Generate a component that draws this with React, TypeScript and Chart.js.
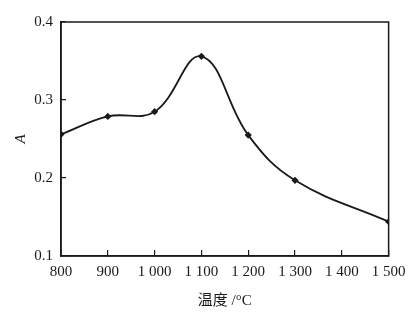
import React, { useEffect, useRef } from "react";
import { Chart, registerables } from "chart.js";

Chart.register(...registerables);

const temperatures = [800, 900, 1000, 1100, 1200, 1300, 1500];
const absorbance = [0.256, 0.279, 0.285, 0.356, 0.255, 0.197, 0.144];
const xTickValues = [800, 900, 1000, 1100, 1200, 1300, 1400, 1500];
const xTickLabels = ["800", "900", "1 000", "1 100", "1 200", "1 300", "1 400", "1 500"];
const yTickLabels = ["0.1", "0.2", "0.3", "0.4"];
const xTitle = "温度 /°C";
const yTitle = "A";

const FONT = "'Liberation Serif', 'Times New Roman', 'Noto Sans CJK SC', serif";
const INK = "#1a1a1a";

const boxPlugin = {
  id: "box",
  afterDraw(chart: any) {
    const { ctx, chartArea } = chart;
    ctx.save();
    ctx.strokeStyle = INK;
    ctx.lineWidth = 1.5;
    ctx.strokeRect(chartArea.left, chartArea.top, chartArea.right - chartArea.left, chartArea.bottom - chartArea.top);
    ctx.restore();
  },
};

export default function App() {
  const ref = useRef<HTMLCanvasElement | null>(null);
  useEffect(() => {
    if (!ref.current) return;
    const chart = new Chart(ref.current, {
      type: "line",
      data: {
        datasets: [
          {
            data: temperatures.map((t, i) => ({ x: t, y: absorbance[i] })),
            borderColor: INK,
            backgroundColor: INK,
            borderWidth: 1.8,
            tension: 0.4,
            pointStyle: "rectRot",
            pointRadius: 3.6,
            pointBorderWidth: 0,
            fill: false,
          },
        ],
      },
      options: {
        animation: false,
        responsive: true,
        maintainAspectRatio: false,
        layout: { padding: { top: 20, right: 30, left: 0, bottom: 0 } },
        plugins: { legend: { display: false }, tooltip: { enabled: false } },
        scales: {
          x: {
            type: "linear",
            min: 800,
            max: 1500,
            afterBuildTicks: (scale: any) => {
              scale.ticks = xTickValues.map((v) => ({ value: v }));
            },
            afterFit: (scale: any) => {
              scale.height = 59;
            },
            ticks: {
              color: INK,
              font: { family: FONT, size: 15 },
              padding: 13.5,
              maxRotation: 0,
              autoSkip: false,
              callback: (v: any) => {
                const i = xTickValues.indexOf(Number(v));
                return i >= 0 ? xTickLabels[i] : "";
              },
            },
            grid: { drawOnChartArea: false, tickLength: -6, color: INK, lineWidth: 1.2 },
            border: { color: INK, width: 1.5 },
            title: {
              display: true,
              text: xTitle,
              color: INK,
              font: { family: FONT, size: 15 },
              padding: { top: 6, bottom: 5 },
            },
          },
          y: {
            type: "linear",
            min: 0.1,
            max: 0.4,
            afterBuildTicks: (scale: any) => {
              scale.ticks = yTickLabels.map((s) => ({ value: parseFloat(s) }));
            },
            afterFit: (scale: any) => {
              scale.width = 61;
            },
            ticks: {
              color: INK,
              font: { family: FONT, size: 15 },
              padding: 13,
              callback: (v: any) => {
                const i = yTickLabels.findIndex((s) => Math.abs(parseFloat(s) - Number(v)) < 1e-6);
                return i >= 0 ? yTickLabels[i] : "";
              },
            },
            grid: { drawOnChartArea: false, tickLength: -5, color: INK, lineWidth: 1.2 },
            border: { color: INK, width: 1.5 },
            title: {
              display: true,
              text: yTitle,
              color: INK,
              font: { family: FONT, size: 15, style: "italic" },
              padding: { top: 12, bottom: 0 },
            },
          },
        },
      },
      plugins: [boxPlugin],
    } as any);
    return () => chart.destroy();
  }, []);
  return (
    <div style={{ position: "absolute", left: 0, top: 0, width: 419, height: 315, background: "#fff" }}>
      <canvas ref={ref} />
    </div>
  );
}
